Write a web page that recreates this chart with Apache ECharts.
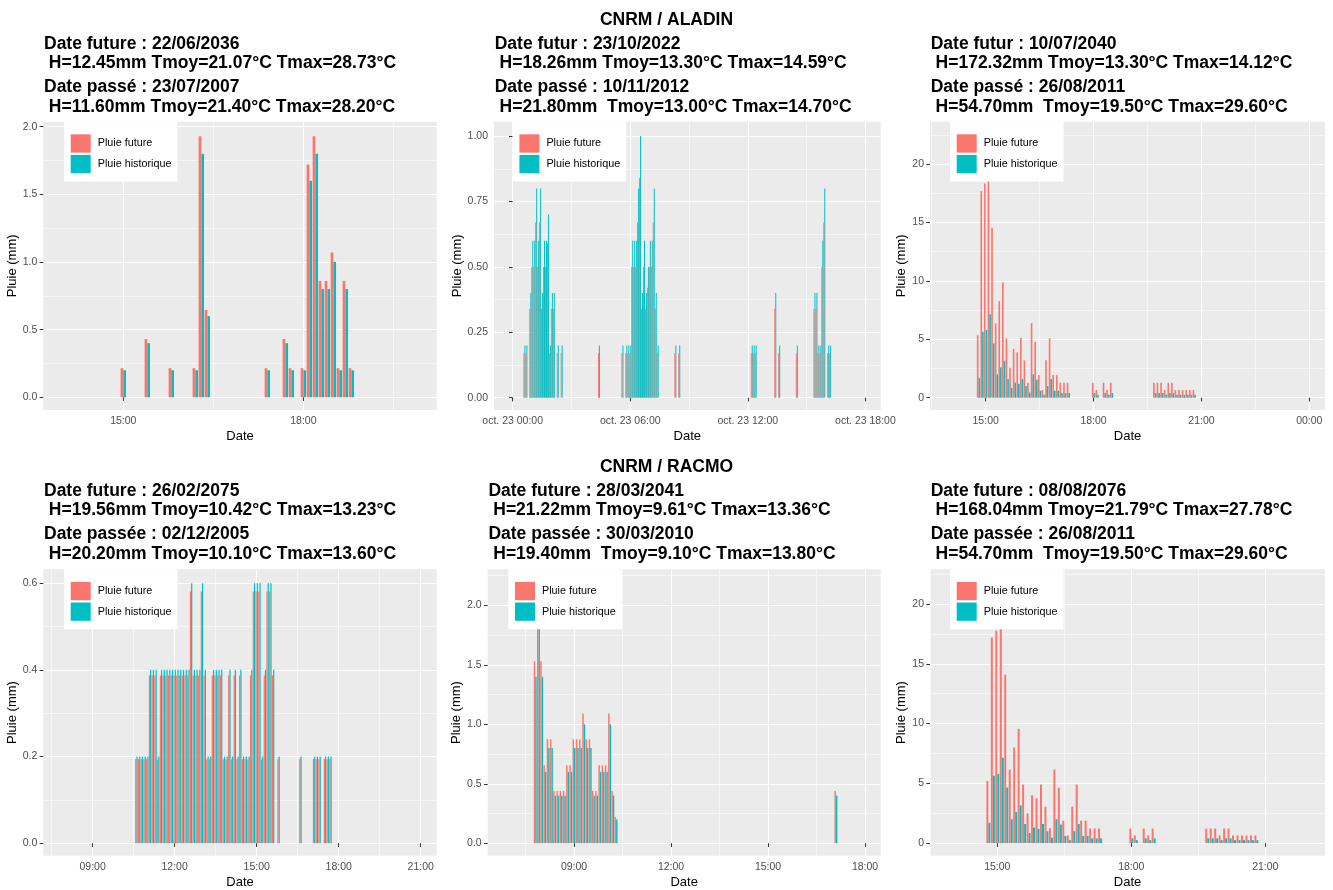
<!DOCTYPE html>
<html>
<head>
<meta charset="utf-8">
<script src="https://cdn.jsdelivr.net/npm/echarts@6/dist/echarts.min.js"></script>
<style>
  html, body { margin: 0; padding: 0; background: #fff; }
  #chart { width: 1333px; height: 890px; }
</style>
</head>
<body>
<div id="chart"></div>
<script>
// ---- data (hours of the day, rain in mm per 6 min step) ----
const p1Times  = [15.0, 15.4, 15.8, 16.2, 16.3, 16.4, 17.4, 17.7, 17.8, 18.0, 18.1, 18.2, 18.3, 18.4, 18.5, 18.6, 18.7, 18.8];
const p1Future = [0.215, 0.43, 0.215, 0.215, 1.93, 0.645, 0.215, 0.43, 0.215, 0.215, 1.72, 1.93, 0.86, 0.86, 1.07, 0.215, 0.86, 0.215];
const p1Hist   = [0.2, 0.4, 0.2, 0.2, 1.8, 0.6, 0.2, 0.4, 0.2, 0.2, 1.6, 1.8, 0.8, 0.8, 1.0, 0.2, 0.8, 0.2];

// panel 2 : hours counted from oct. 23 00:00
const p2Times  = [0.6, 0.7, 0.9, 1.0, 1.1, 1.2, 1.3, 1.4, 1.5, 1.6, 1.7, 1.8, 1.9, 2.0, 2.1, 2.3, 2.5, 4.4, 5.6,
                  5.8, 5.9, 6.0, 6.1, 6.2, 6.3, 6.4, 6.5, 6.6, 6.7, 6.8, 6.9, 7.0, 7.1, 7.2, 7.3, 7.4, 8.3, 8.5,
                  12.2, 12.3, 12.4, 13.4, 13.6, 14.5, 15.4, 15.5, 15.6, 15.7, 15.8, 15.9, 16.1, 16.2];
const p2Future = [0.17, 0.17, 0.34, 0.5, 0.5, 0.67, 0.5, 0.67, 0.34, 0.5, 0.5, 0.59, 0.17, 0.34, 0.34, 0.17, 0.17, 0.17, 0.17,
                  0.17, 0.17, 0.17, 0.5, 0.5, 0.5, 0.67, 0.84, 0.34, 0.5, 0.34, 0.42, 0.5, 0.5, 0.67, 0.34, 0.17, 0.17, 0.17,
                  0.17, 0.17, 0.17, 0.34, 0.17, 0.17, 0.34, 0.34, 0.17, 0.17, 0.5, 0.67, 0.17, 0.17];
const p2Hist   = [0.2, 0.2, 0.4, 0.6, 0.6, 0.8, 0.6, 0.8, 0.4, 0.6, 0.6, 0.7, 0.2, 0.4, 0.4, 0.2, 0.2, 0.2, 0.2,
                  0.2, 0.2, 0.2, 0.6, 0.6, 0.6, 0.8, 1.0, 0.4, 0.6, 0.4, 0.5, 0.6, 0.6, 0.8, 0.4, 0.2, 0.2, 0.2,
                  0.2, 0.2, 0.2, 0.4, 0.2, 0.2, 0.4, 0.4, 0.2, 0.2, 0.6, 0.8, 0.2, 0.2];

// 26/08/2011 event, used by panels 3 and 6
const t2011    = [14.8, 14.9, 15.0, 15.1, 15.2, 15.3, 15.4, 15.5, 15.6, 15.7, 15.8, 15.9, 16.0, 16.1, 16.2, 16.3,
                  16.4, 16.5, 16.6, 16.7, 16.8, 16.9, 17.0, 17.1, 17.2, 17.3, 18.0, 18.1, 18.3, 18.4, 18.5,
                  19.7, 19.8, 19.9, 20.0, 20.1, 20.2, 20.3, 20.4, 20.5, 20.6, 20.7, 20.8];
const hist2011 = [1.7, 5.65, 5.8, 7.15, 4.65, 2.0, 2.6, 3.15, 1.6, 0.85, 1.3, 1.2, 1.6, 1.0, 0.45, 2.0,
                  1.55, 0.6, 0.25, 1.0, 1.6, 0.6, 0.6, 0.4, 0.4, 0.4, 0.4, 0.25, 0.4, 0.25, 0.4,
                  0.4, 0.4, 0.4, 0.25, 0.4, 0.4, 0.25, 0.25, 0.25, 0.25, 0.25, 0.25];
const p3Future = [5.36, 17.7, 18.35, 22.4, 14.55, 6.36, 8.27, 9.87, 5.08, 2.57, 4.17, 3.88, 5.14, 3.2, 1.28, 6.39,
                  4.79, 1.94, 0.66, 3.2, 5.08, 1.94, 1.94, 1.28, 1.28, 1.28, 1.28, 0.66, 1.28, 0.66, 1.28,
                  1.28, 1.28, 1.28, 0.66, 1.28, 1.28, 0.66, 0.66, 0.66, 0.66, 0.66, 0.66];
const p6Future = [5.2, 17.2, 17.8, 21.65, 14.1, 6.15, 8.0, 9.56, 4.9, 2.5, 4.0, 3.74, 4.9, 3.05, 1.25, 6.15,
                  4.63, 1.88, 0.64, 3.05, 4.9, 1.88, 1.88, 1.22, 1.22, 1.22, 1.22, 0.64, 1.22, 0.64, 1.22,
                  1.22, 1.22, 1.22, 0.64, 1.22, 1.22, 0.64, 0.64, 0.64, 0.64, 0.64, 0.64];

const p4Times  = [10.6, 10.7, 10.8, 10.9, 11.0, 11.1, 11.2, 11.3, 11.4, 11.5, 11.6, 11.7, 11.8, 11.9, 12.0, 12.1,
                  12.2, 12.3, 12.4, 12.5, 12.6, 12.7, 12.8, 12.9, 13.0, 13.1, 13.2, 13.3, 13.4, 13.5, 13.6, 13.7,
                  13.8, 13.9, 14.0, 14.1, 14.2, 14.3, 14.4, 14.5, 14.6, 14.7, 14.8, 14.9, 15.0, 15.1, 15.2, 15.3,
                  15.4, 15.5, 15.6, 15.8, 16.6, 17.1, 17.2, 17.3, 17.5, 17.6, 17.7];
const p4Future = [0.194, 0.194, 0.194, 0.194, 0.194, 0.387, 0.387, 0.387, 0.194, 0.387, 0.387, 0.387, 0.387, 0.387, 0.387, 0.387,
                  0.387, 0.387, 0.387, 0.387, 0.581, 0.387, 0.387, 0.387, 0.581, 0.387, 0.194, 0.194, 0.387, 0.387, 0.387, 0.387,
                  0.194, 0.194, 0.387, 0.194, 0.387, 0.194, 0.387, 0.194, 0.194, 0.194, 0.387, 0.581, 0.581, 0.581, 0.194, 0.387,
                  0.581, 0.581, 0.387, 0.194, 0.194, 0.194, 0.194, 0.194, 0.194, 0.194, 0.194];
const p4Hist   = [0.2, 0.2, 0.2, 0.2, 0.2, 0.4, 0.4, 0.4, 0.2, 0.4, 0.4, 0.4, 0.4, 0.4, 0.4, 0.4,
                  0.4, 0.4, 0.4, 0.4, 0.6, 0.4, 0.4, 0.4, 0.6, 0.4, 0.2, 0.2, 0.4, 0.4, 0.4, 0.4,
                  0.2, 0.2, 0.4, 0.2, 0.4, 0.2, 0.4, 0.2, 0.2, 0.2, 0.4, 0.6, 0.6, 0.6, 0.2, 0.4,
                  0.6, 0.6, 0.4, 0.2, 0.2, 0.2, 0.2, 0.2, 0.2, 0.2, 0.2];

const p5Times  = [7.8, 7.9, 8.0, 8.1, 8.2, 8.3, 8.4, 8.5, 8.6, 8.7, 8.8, 8.9, 9.0, 9.1, 9.2, 9.3, 9.4, 9.5, 9.6,
                  9.7, 9.8, 9.9, 10.0, 10.1, 10.2, 10.3, 17.1];
const p5Future = [1.53, 2.19, 1.53, 0.655, 0.875, 0.875, 0.44, 0.44, 0.44, 0.44, 0.655, 0.655, 0.875, 0.875, 0.875, 1.09,
                  0.875, 0.875, 0.44, 0.44, 0.655, 0.655, 0.655, 1.09, 0.44, 0.22, 0.44];
const p5Hist   = [1.4, 2.0, 1.4, 0.6, 0.8, 0.8, 0.4, 0.4, 0.4, 0.4, 0.6, 0.6, 0.8, 0.8, 0.8, 1.0,
                  0.8, 0.8, 0.4, 0.4, 0.6, 0.6, 0.6, 1.0, 0.4, 0.2, 0.4];

// ---- look ----
const FONT = '"Liberation Sans", Arial, sans-serif';
const RED = '#F8766D';
const CYAN = '#00BFC4';

function hh(h) {
  const v = ((Math.round(h) % 24) + 24) % 24;
  return (v < 10 ? '0' : '') + v + ':00';
}

const panels = [
  { box: [43.3, 121.7, 393.4, 288.3], x: [13.667, 20.222], xMaj: [15, 18], xMin: [16.5, 19.5],
    y: [-0.094, 2.037], yMaj: [0, 0.5, 1, 1.5, 2], yMin: [0.25, 0.75, 1.25, 1.75], dig: 1, yGap: 23.5,
    bw: 2.7, leg: 64, prefix: '', times: p1Times, fut: p1Future, hist: p1Hist,
    t1: 'Date future : 22/06/2036\n H=12.45mm Tmoy=21.07°C Tmax=28.73°C',
    t2: 'Date passé : 23/07/2007\n H=11.60mm Tmoy=21.40°C Tmax=28.20°C' },
  { box: [494, 121.7, 386.7, 288.3], x: [-0.953, 18.78], xMaj: [0, 6, 12, 18], xMin: [3, 9, 15],
    y: [-0.047, 1.055], yMaj: [0, 0.25, 0.5, 0.75, 1], yMin: [0.125, 0.375, 0.625, 0.875], dig: 2, yGap: 30,
    bw: 1.0, leg: 512.7, prefix: 'oct. 23 ', times: p2Times, fut: p2Future, hist: p2Hist,
    t1: 'Date futur : 23/10/2022\n H=18.26mm Tmoy=13.30°C Tmax=14.59°C',
    t2: 'Date passé : 10/11/2012\n H=21.80mm  Tmoy=13.00°C Tmax=14.70°C' },
  { box: [930, 121.7, 395, 288.3], x: [13.452, 24.436], xMaj: [15, 18, 21, 24], xMin: [13.5, 16.5, 19.5, 22.5],
    y: [-1.05, 23.63], yMaj: [0, 5, 10, 15, 20], yMin: [2.5, 7.5, 12.5, 17.5, 22.5], dig: 0, yGap: 22,
    bw: 1.62, leg: 950, prefix: '', times: t2011, fut: p3Future, hist: hist2011,
    t1: 'Date futur : 10/07/2040\n H=172.32mm Tmoy=13.30°C Tmax=14.12°C',
    t2: 'Date passé : 26/08/2011\n H=54.70mm  Tmoy=19.50°C Tmax=29.60°C' },
  { box: [43.3, 569.3, 393.4, 288.4], x: [7.195, 21.585], xMaj: [9, 12, 15, 18, 21], xMin: [7.5, 10.5, 13.5, 16.5, 19.5],
    y: [-0.029, 0.632], yMaj: [0, 0.2, 0.4, 0.6], yMin: [0.1, 0.3, 0.5], dig: 1, yGap: 23.5,
    bw: 1.23, leg: 64, prefix: '', times: p4Times, fut: p4Future, hist: p4Hist,
    t1: 'Date future : 26/02/2075\n H=19.56mm Tmoy=10.42°C Tmax=13.23°C',
    t2: 'Date passée : 02/12/2005\n H=20.20mm Tmoy=10.10°C Tmax=13.60°C' },
  { box: [487.7, 569.3, 393, 288.4], x: [6.33, 18.485], xMaj: [9, 12, 15, 18], xMin: [7.5, 10.5, 13.5, 16.5],
    y: [-0.106, 2.304], yMaj: [0, 0.5, 1, 1.5, 2], yMin: [0.25, 0.75, 1.25, 1.75, 2.25], dig: 1, yGap: 24,
    bw: 1.45, leg: 508.3, prefix: '', times: p5Times, fut: p5Future, hist: p5Hist,
    t1: 'Date future : 28/03/2041\n H=21.22mm Tmoy=9.61°C Tmax=13.36°C',
    t2: 'Date passée : 30/03/2010\n H=19.40mm  Tmoy=9.10°C Tmax=13.80°C' },
  { box: [930, 569.3, 395, 288.4], x: [13.493, 22.336], xMaj: [15, 18, 21], xMin: [13.5, 16.5, 19.5],
    y: [-1.06, 22.91], yMaj: [0, 5, 10, 15, 20], yMin: [2.5, 7.5, 12.5, 17.5, 22.5], dig: 0, yGap: 21,
    bw: 2.0, leg: 950, prefix: '', times: t2011, fut: p6Future, hist: hist2011,
    t1: 'Date future : 08/08/2076\n H=168.04mm Tmoy=21.79°C Tmax=27.78°C',
    t2: 'Date passée : 26/08/2011\n H=54.70mm  Tmoy=19.50°C Tmax=29.60°C' }
];

const titleStyle = { fontSize: 17.5, fontWeight: 'bold', color: '#000', lineHeight: 19.3, fontFamily: FONT };

const option = {
  animation: false,
  backgroundColor: '#fff',
  textStyle: { fontFamily: FONT },
  title: [
    { text: 'CNRM / ALADIN', left: 'center', top: 9.7, padding: 0, textStyle: { ...titleStyle, lineHeight: 20 } },
    { text: 'CNRM / RACMO', left: 'center', top: 456.7, padding: 0, textStyle: { ...titleStyle, lineHeight: 20 } }
  ],
  grid: [], xAxis: [], yAxis: [], legend: [], series: []
};

panels.forEach((p, i) => {
  const [left, top, width, height] = p.box;
  const row = i < 3 ? 0 : 447;

  option.title.push({
    text: p.t1, subtext: p.t2, left: left + 0.7, top: 34.6 + row, padding: 0, itemGap: 4.8,
    textStyle: titleStyle, subtextStyle: titleStyle
  });

  option.grid.push({
    left: left, top: top, width: width, height: height,
    show: true, backgroundColor: '#EBEBEB', borderWidth: 0, containLabel: false
  });

  // main x axis (major grid, ticks, labels)
  option.xAxis.push({
    type: 'value', gridIndex: i, min: p.x[0], max: p.x[1], position: 'bottom',
    name: 'Date', nameLocation: 'middle', nameGap: 20.2,
    nameTextStyle: { fontSize: 13, color: '#000' },
    axisLine: { show: false },
    axisTick: { show: true, length: 3.7, customValues: p.xMaj, lineStyle: { color: '#333', width: 1 } },
    axisLabel: { customValues: p.xMaj, margin: 5.5, fontSize: 10.5, color: '#4D4D4D',
                 formatter: v => p.prefix + hh(v) },
    splitLine: { show: true, lineStyle: { color: '#fff', width: 1.1 } }
  });
  // minor x grid
  option.xAxis.push({
    type: 'value', gridIndex: i, min: p.x[0], max: p.x[1], position: 'top',
    axisLine: { show: false }, axisLabel: { show: false },
    axisTick: { show: false, customValues: p.xMin },
    splitLine: { show: true, lineStyle: { color: '#fff', width: 0.55 } }
  });

  option.yAxis.push({
    type: 'value', gridIndex: i, min: p.y[0], max: p.y[1], position: 'left',
    name: 'Pluie (mm)', nameLocation: 'middle', nameRotate: 90, nameGap: p.yGap,
    nameTextStyle: { fontSize: 13, color: '#000' },
    axisLine: { show: false },
    axisTick: { show: true, length: 3.7, customValues: p.yMaj, lineStyle: { color: '#333', width: 1 } },
    axisLabel: { customValues: p.yMaj, margin: 6, fontSize: 10.5, color: '#4D4D4D',
                 formatter: v => v.toFixed(p.dig) },
    splitLine: { show: true, lineStyle: { color: '#fff', width: 1.1 } }
  });
  option.yAxis.push({
    type: 'value', gridIndex: i, min: p.y[0], max: p.y[1], position: 'right',
    axisLine: { show: false }, axisLabel: { show: false },
    axisTick: { show: false, customValues: p.yMin },
    splitLine: { show: true, lineStyle: { color: '#fff', width: 0.55 } }
  });

  option.legend.push({
    data: ['Pluie future', 'Pluie historique'],
    orient: 'vertical', left: p.leg, top: top,
    icon: 'rect', itemWidth: 20, itemHeight: 18.3, itemGap: 2.3,
    padding: [12.6, 6, 8.4, 6.7], backgroundColor: '#fff',
    textStyle: { fontSize: 10.8, color: '#000', padding: [0, 0, 0, 2] },
    selectedMode: false
  });

  // red drawn over cyan so that the thin red bars of panel 2 stay visible
  option.series.push({
    type: 'bar', name: 'Pluie future', xAxisIndex: 2 * i, yAxisIndex: 2 * i, z: 3,
    data: p.times.map((t, j) => [t, p.fut[j]]),
    barWidth: p.bw, barGap: '0%', itemStyle: { color: RED }, silent: true
  });
  option.series.push({
    type: 'bar', name: 'Pluie historique', xAxisIndex: 2 * i, yAxisIndex: 2 * i, z: 2,
    data: p.times.map((t, j) => [t, p.hist[j]]),
    barWidth: p.bw, barGap: '0%', itemStyle: { color: CYAN }, silent: true
  });
});

const chart = echarts.init(document.getElementById('chart'));
chart.setOption(option);
</script>
</body>
</html>
